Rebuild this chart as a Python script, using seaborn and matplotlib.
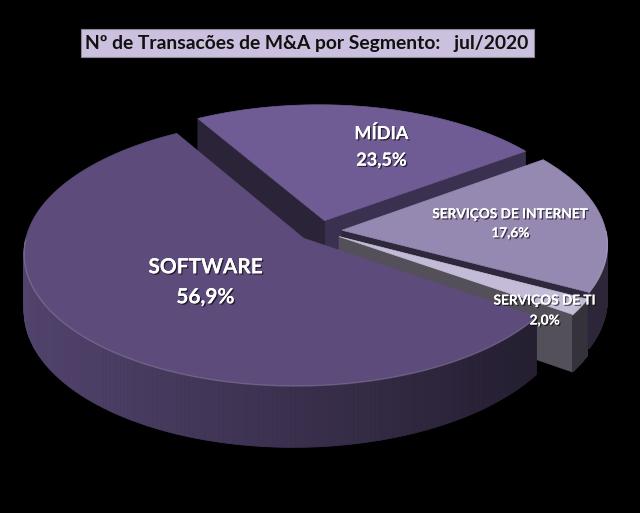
import numpy as np
import matplotlib
matplotlib.use("Agg")
import matplotlib.pyplot as plt
from matplotlib.patches import Polygon, Rectangle
from matplotlib.transforms import Bbox
import matplotlib.patheffects as pe
import seaborn as sns

# ---------------- data ----------------
categories = ["SOFTWARE", "MÍDIA", "SERVIÇOS DE INTERNET", "SERVIÇOS DE TI"]
counts = [29, 12, 9, 1]
title = "Nº de Transacões de M&A por Segmento:   jul/2020"

# ---------------- style ----------------
top_colors = ["#5d4c7b", "#6f5c94", "#9588b1", "#c4bbd6"]
wall_light = ["#52436d", "#4a3d63", "#4a4060", "#4a4752"]
wall_dark = ["#1f1a29", "#1f1a29", "#2c2638", "#34313b"]
face_start = ["#2a2236", "#3a3150", "#2f283d", "#53505a"]
face_end = ["#2a2236", "#2b2338", "#2f283d", "#53505a"]
label_sizes = [15, 13, 9.8, 9.8]
label_radius = [0.47, 0.66, 0.64, 0.905]
label_dtheta = [0.0, -8.5, 0.5, -5.6]
label_gap = [15, 13.5, 9.5, 10]

sns.set_theme(style="white")
plt.rcParams["font.family"] = ["Lato", "DejaVu Sans"]

W, H = 640, 513
fig = plt.figure(figsize=(W / 100, H / 100), dpi=100, facecolor="black")
ax = fig.add_axes([0, 0, 1, 1])
ax.set_xlim(0, W)
ax.set_ylim(H, 0)
ax.set_facecolor("black")
ax.axis("off")

# projection parameters (layout)
CX, CY = 320.0, 231.0
A, B = 270.0, 130.0
P = 0.104
R = 0.02
DEPTH = 55.0
EXPLODE = 0.082
START = -34.7  # degrees, slices run clockwise from here


def proj(u, v, z=0.0):
    u = np.asarray(u, float)
    v = np.asarray(v, float)
    w = 1.0 + P * v + R * u
    return CX + A * u / w, CY - B * v / w + z * DEPTH / w


def mix(c1, c2, t):
    a = np.array(matplotlib.colors.to_rgb(c1))
    b = np.array(matplotlib.colors.to_rgb(c2))
    return tuple(a + (b - a) * t)


total = float(sum(counts))
sizes = [360.0 * c / total for c in counts]
spans = []
cur = START
for s in sizes:
    a0 = cur
    a1 = cur - s
    spans.append((a1, a0))  # counter-clockwise from a1 to a0
    cur = a1

mids = [np.deg2rad((a1 + a0) / 2) for a1, a0 in spans]
order = sorted(range(len(counts)), key=lambda i: -np.sin(mids[i]))

for i in order:
    a1, a0 = np.deg2rad(spans[i][0]), np.deg2rad(spans[i][1])
    ou, ov = EXPLODE * np.cos(mids[i]), EXPLODE * np.sin(mids[i])
    t = np.linspace(a1, a0, 240)
    ru, rv = np.cos(t) + ou, np.sin(t) + ov
    tx, ty = proj(ru, rv, 0)
    bx, by = proj(ru, rv, 1)
    apx, apy = proj(ou, ov, 0)
    apbx, apby = proj(ou, ov, 1)

    # radial faces
    if np.cos(a1) > 0:
        ax.add_patch(Polygon([(apx, apy), (tx[0], ty[0]), (bx[0], by[0]), (apbx, apby)],
                             closed=True, fc=face_start[i], ec=face_start[i], lw=0.5))
    if np.cos(a0) < 0:
        ax.add_patch(Polygon([(apx, apy), (tx[-1], ty[-1]), (bx[-1], by[-1]), (apbx, apby)],
                             closed=True, fc=face_end[i], ec=face_end[i], lw=0.5))

    # outer wall (front facing)
    for k in range(len(t) - 1):
        if np.sin((t[k] + t[k + 1]) / 2) < 0:
            xm = (tx[k] + tx[k + 1]) / 2
            f = np.clip((xm - 30) / 570.0, 0, 1)
            col = mix(wall_light[i], wall_dark[i], f)
            ax.add_patch(Polygon([(tx[k], ty[k]), (tx[k + 1], ty[k + 1]),
                                  (bx[k + 1], by[k + 1]), (bx[k], by[k])],
                                 closed=True, fc=col, ec=col, lw=0.6))

    # top face
    pts = [(apx, apy)] + list(zip(tx, ty))
    ax.add_patch(Polygon(pts, closed=True, fc=top_colors[i], ec=top_colors[i], lw=0.5))

    # rim highlight on the front edge
    front = np.sin(t) < 0
    if front.any():
        hl = mix(top_colors[i], "#ffffff", 0.25)
        ax.plot(tx[front], ty[front] + 0.5, color=hl, lw=1.0, alpha=0.6)

# labels (clipped at the plot-area edge like the original)
clip_box = Bbox.from_extents(0, 0, 596, H)
shadow = [pe.withSimplePatchShadow(offset=(1, -1), shadow_rgbFace="black", alpha=0.6), pe.Normal()]
for i in range(len(counts)):
    m = mids[i] + np.deg2rad(label_dtheta[i])
    ou, ov = EXPLODE * np.cos(mids[i]), EXPLODE * np.sin(mids[i])
    r = label_radius[i]
    lx, ly = proj(r * np.cos(m) + ou, r * np.sin(m) + ov, 0)
    pct = f"{100 * counts[i] / total:.1f}".replace(".", ",") + "%"
    for txt, dy in ((categories[i], -label_gap[i]), (pct, label_gap[i])):
        tobj = ax.text(float(lx), float(ly) + dy, txt, color="white", fontsize=label_sizes[i],
                       fontweight="bold", ha="center", va="center", path_effects=shadow)
        tobj.set_clip_on(True)
        tobj.set_clip_box(clip_box)

# title box
ax.add_patch(Rectangle((81, 29), 453, 28, fc="#cbc1df", ec="#8d8898", lw=0.8))
ax.text(307, 43.5, title, fontsize=13.9, fontweight="bold", color="#111111",
        ha="center", va="center")

fig.savefig("out.png", dpi=100, facecolor="black")
